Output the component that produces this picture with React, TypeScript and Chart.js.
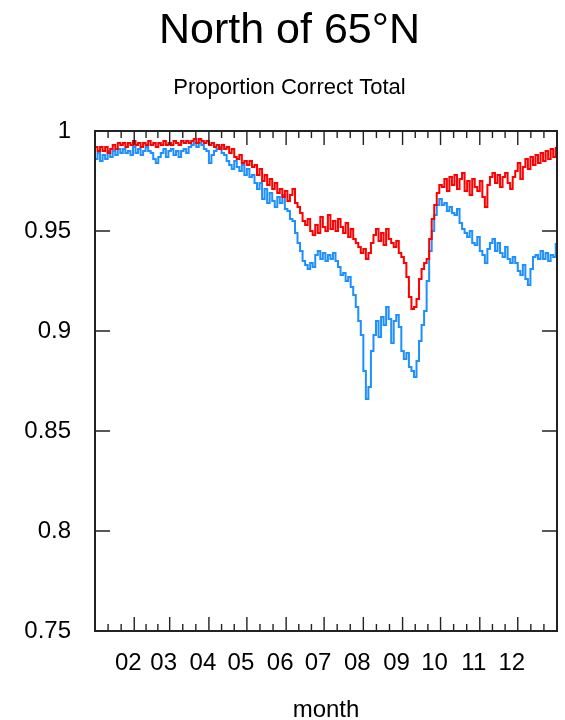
import React, { useEffect, useRef } from 'react';
import { Chart, registerables } from 'chart.js';

Chart.register(...registerables);

const FONT = "'Liberation Sans', Arial, sans-serif";

// day-of-year at which each month starts (Jan..Dec, plus year end)
const monthStarts = [0, 31, 59, 90, 120, 151, 181, 212, 243, 273, 304, 334, 365];
const monthLabels = ['02', '03', '04', '05', '06', '07', '08', '09', '10', '11', '12'];
const yTickValues = [0.75, 0.8, 0.85, 0.9, 0.95, 1];

const dayStep = 2; // one sample every 2 days

const redValues = [
  0.992, 0.990, 0.992, 0.990, 0.992, 0.989, 0.991, 0.993, 0.991, 0.994, 0.993,
  0.994, 0.992, 0.994, 0.993, 0.995, 0.993, 0.994, 0.992, 0.994, 0.993, 0.995, 0.993,
  0.994, 0.992, 0.994, 0.993, 0.995, 0.993, 0.994, 0.993, 0.995, 0.994, 0.993, 0.995, 0.994, 0.995, 0.994,
  0.995, 0.996, 0.994, 0.996, 0.995, 0.994, 0.995, 0.993, 0.994, 0.992,
  0.993, 0.991, 0.993, 0.991, 0.992, 0.989, 0.991, 0.987,
  0.986, 0.988, 0.984, 0.985, 0.983, 0.985, 0.982,
  0.983, 0.978, 0.981, 0.975, 0.978, 0.973, 0.976, 0.971, 0.974, 0.969,
  0.971, 0.967, 0.970, 0.965, 0.968, 0.971, 0.964, 0.962,
  0.959, 0.955, 0.953, 0.956, 0.950,
  0.948, 0.953, 0.949, 0.957, 0.952, 0.950, 0.958, 0.951, 0.955, 0.950, 0.956, 0.952,
  0.949, 0.954, 0.947, 0.951, 0.946, 0.944, 0.942, 0.939,
  0.941, 0.936, 0.939, 0.944, 0.948,
  0.951, 0.945, 0.949, 0.943, 0.951, 0.946, 0.944,
  0.942, 0.945, 0.939, 0.937, 0.934,
  0.927, 0.917, 0.911, 0.912, 0.916,
  0.926, 0.931, 0.934, 0.936, 0.946,
  0.956, 0.963, 0.969, 0.973,
  0.972, 0.976, 0.970, 0.977,
  0.973, 0.978, 0.971, 0.976, 0.979, 0.970, 0.975, 0.968, 0.976, 0.972, 0.970, 0.975, 0.967, 0.962, 0.973,
  0.977, 0.979, 0.974, 0.978, 0.972, 0.977, 0.979, 0.974, 0.971, 0.977,
  0.980, 0.984, 0.976, 0.982, 0.986, 0.981, 0.987,
  0.983, 0.988, 0.984, 0.989, 0.985, 0.990, 0.986, 0.991, 0.987, 0.992,
];

const blueValues = [
  0.986, 0.989, 0.985, 0.988, 0.986, 0.990, 0.987, 0.990, 0.988, 0.991, 0.989,
  0.991, 0.989, 0.990, 0.988, 0.992, 0.989, 0.991, 0.988, 0.990, 0.992, 0.990, 0.989,
  0.986, 0.984, 0.987, 0.989, 0.991, 0.987, 0.990, 0.991, 0.988, 0.990, 0.987, 0.990, 0.991, 0.989, 0.992,
  0.993, 0.994, 0.992, 0.994, 0.993, 0.991, 0.990, 0.984, 0.988, 0.990,
  0.991, 0.992, 0.989, 0.988, 0.985, 0.983, 0.981, 0.985,
  0.982, 0.980, 0.983, 0.978, 0.981, 0.977, 0.978,
  0.974, 0.971, 0.974, 0.966, 0.971, 0.964, 0.969, 0.965, 0.962, 0.967,
  0.964, 0.968, 0.961, 0.960, 0.956, 0.955, 0.949, 0.944,
  0.940, 0.935, 0.933, 0.931, 0.934,
  0.932, 0.938, 0.940, 0.936, 0.939, 0.935, 0.938, 0.936, 0.939, 0.935, 0.932, 0.928,
  0.929, 0.925, 0.927, 0.922, 0.918, 0.912, 0.905, 0.898,
  0.880, 0.866, 0.872, 0.890, 0.898,
  0.905, 0.897, 0.907, 0.903, 0.912, 0.906, 0.894,
  0.905, 0.908, 0.902, 0.890, 0.886,
  0.889, 0.882, 0.880, 0.877, 0.885,
  0.895, 0.903, 0.910, 0.925, 0.940,
  0.950, 0.958, 0.963, 0.966,
  0.963, 0.964, 0.960, 0.962,
  0.959, 0.958, 0.961, 0.954, 0.951, 0.949, 0.947, 0.950, 0.944, 0.943, 0.947, 0.940, 0.938, 0.934, 0.941,
  0.944, 0.946, 0.940, 0.944, 0.939, 0.937, 0.942, 0.936, 0.934, 0.937,
  0.934, 0.930, 0.928, 0.933, 0.926, 0.923, 0.931,
  0.937, 0.938, 0.936, 0.940, 0.936, 0.939, 0.935, 0.938, 0.937, 0.944,
];

const toPoints = (vals: number[]) => vals.map((v, i) => ({ x: i * dayStep, y: v }));

const framePlugin = {
  id: 'gnuplotFrame',
  afterDatasetsDraw(chart: any) {
    const { ctx, chartArea: a, scales } = chart;
    const x = scales.x;
    const y = scales.y;
    ctx.save();
    ctx.strokeStyle = '#222';
    ctx.lineWidth = 1.4;
    ctx.beginPath();
    // major x ticks at month starts (top and bottom, inward)
    for (let m = 1; m < 12; m++) {
      const px = x.getPixelForValue(monthStarts[m]);
      ctx.moveTo(px, a.bottom);
      ctx.lineTo(px, a.bottom - 14);
      ctx.moveTo(px, a.top);
      ctx.lineTo(px, a.top + 14);
    }
    // minor x ticks: thirds of each month
    for (let m = 0; m < 12; m++) {
      const s = monthStarts[m];
      const e = monthStarts[m + 1];
      for (let k = 1; k <= 2; k++) {
        const px = x.getPixelForValue(s + ((e - s) * k) / 3);
        ctx.moveTo(px, a.bottom);
        ctx.lineTo(px, a.bottom - 7);
        ctx.moveTo(px, a.top);
        ctx.lineTo(px, a.top + 7);
      }
    }
    // y ticks (left and right, inward)
    for (const v of yTickValues) {
      if (v === yTickValues[0] || v === yTickValues[yTickValues.length - 1]) continue;
      const py = y.getPixelForValue(v);
      ctx.moveTo(a.left, py);
      ctx.lineTo(a.left + 15, py);
      ctx.moveTo(a.right, py);
      ctx.lineTo(a.right - 15, py);
    }
    ctx.stroke();
    ctx.lineWidth = 2;
    ctx.strokeRect(a.left, a.top, a.right - a.left, a.bottom - a.top);
    ctx.restore();
  },
};

export default function App() {
  const canvasRef = useRef<HTMLCanvasElement | null>(null);

  useEffect(() => {
    if (!canvasRef.current) return;
    const chart = new Chart(canvasRef.current, {
      type: 'line',
      data: {
        datasets: [
          {
            label: 'red',
            data: toPoints(redValues),
            borderColor: '#ff0000',
            borderWidth: 2,
            pointRadius: 0,
            stepped: true,
            fill: false,
          },
          {
            label: 'blue',
            data: toPoints(blueValues),
            borderColor: '#1e90ff',
            borderWidth: 2,
            pointRadius: 0,
            stepped: true,
            fill: false,
          },
        ],
      },
      options: {
        animation: false,
        responsive: false,
        devicePixelRatio: 1,
        layout: { padding: { left: 22, right: 8, top: 0, bottom: 0 } },
        plugins: {
          legend: { display: false },
          tooltip: { enabled: false },
          title: {
            display: true,
            text: 'North of 65°N',
            color: '#000',
            font: { family: FONT, size: 43, weight: 'normal', lineHeight: 1 },
            padding: { top: 10, bottom: 0 },
          },
          subtitle: {
            display: true,
            text: 'Proportion Correct Total',
            color: '#000',
            font: { family: FONT, size: 22, weight: 'normal', lineHeight: 1 },
            padding: { top: 24, bottom: 32 },
          },
        },
        scales: {
          x: {
            type: 'linear',
            min: 0,
            max: 365,
            grid: { display: false, drawTicks: false },
            border: { display: false },
            afterBuildTicks: (scale: any) => {
              scale.ticks = monthStarts.slice(1, 12).map((v) => ({ value: v }));
            },
            afterFit: (scale: any) => {
              scale.height = 89;
            },
            ticks: {
              autoSkip: false,
              maxRotation: 0,
              padding: 18,
              labelOffset: -6,
              color: '#000',
              font: { family: FONT, size: 24 },
              callback: (value: any) => monthLabels[monthStarts.indexOf(Number(value)) - 1],
            },
            title: {
              display: true,
              text: 'month',
              color: '#000',
              font: { family: FONT, size: 24, lineHeight: 1 },
              padding: { top: 0, bottom: -2 },
            },
          },
          y: {
            min: 0.75,
            max: 1,
            grid: { display: false, drawTicks: false },
            border: { display: false },
            afterBuildTicks: (scale: any) => {
              scale.ticks = yTickValues.map((v) => ({ value: v }));
            },
            afterFit: (scale: any) => {
              scale.width = 73;
            },
            ticks: {
              padding: 24,
              color: '#000',
              font: { family: FONT, size: 24 },
              callback: (value: any) => String(value),
            },
          },
        },
      },
      plugins: [framePlugin],
    } as any);
    return () => chart.destroy();
  }, []);

  return (
    <div style={{ position: 'fixed', left: 0, top: 0, width: 565, height: 720, background: '#fff' }}>
      <canvas ref={canvasRef} width={565} height={720} style={{ display: 'block' }} />
    </div>
  );
}
